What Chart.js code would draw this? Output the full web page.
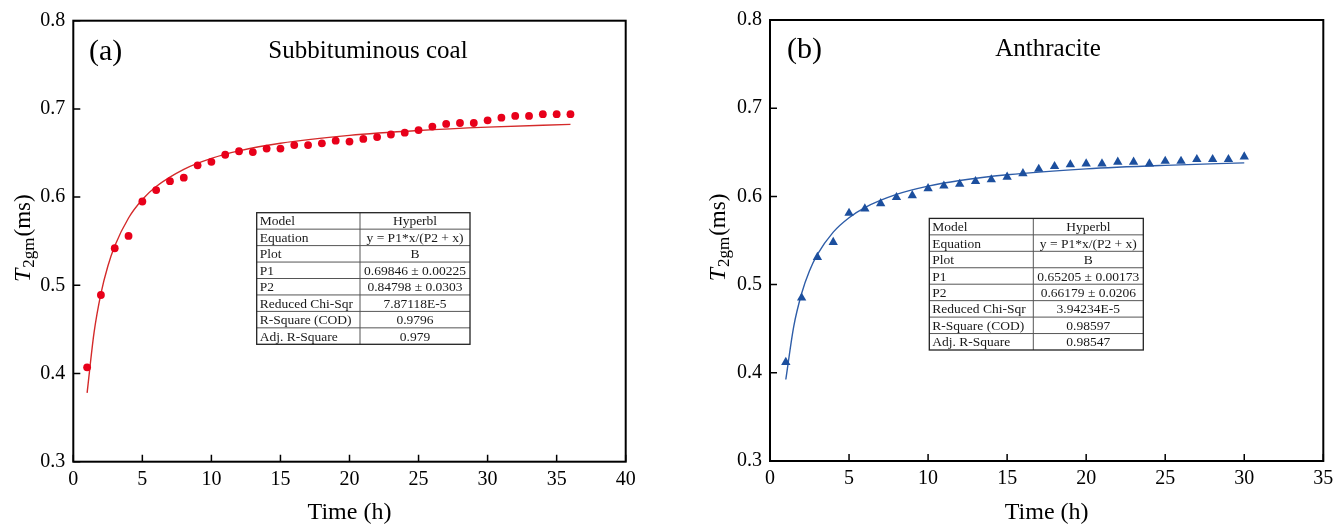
<!DOCTYPE html>
<html>
<head>
<meta charset="utf-8">
<title>T2gm vs time</title>
<script src="https://cdn.jsdelivr.net/npm/chart.js@4.4.1/dist/chart.umd.min.js"></script>
<style>
  html, body { margin: 0; padding: 0; background: #fff; overflow: hidden; width: 1333px; height: 528px; }
  .panel { position: absolute; top: 0; }
  #panelA { left: 0; }
  #panelB { left: 666px; }
</style>
</head>
<body>
<div class="panel" id="panelA"><canvas id="chartA" width="666" height="528"></canvas></div>
<div class="panel" id="panelB"><canvas id="chartB" width="700" height="528"></canvas></div>
<script>
// measured T2gm (ms) per hour
const hoursA = [1,2,3,4,5,6,7,8,9,10,11,12,13,14,15,16,17,18,19,20,21,22,23,24,25,26,27,28,29,30,31,32,33,34,35,36];
const t2gmA = [0.407,0.489,0.542,0.556,0.595,0.608,0.618,0.622,0.636,0.640,0.648,0.652,0.651,0.655,0.655,0.659,0.659,0.661,0.664,0.663,0.666,0.668,0.671,0.673,0.676,0.680,0.683,0.684,0.684,0.687,0.690,0.692,0.692,0.694,0.694,0.694];

const hoursB = [1,2,3,4,5,6,7,8,9,10,11,12,13,14,15,16,17,18,19,20,21,22,23,24,25,26,27,28,29,30];
const t2gmB = [0.412,0.485,0.531,0.548,0.581,0.586,0.592,0.599,0.601,0.609,0.612,0.614,0.617,0.619,0.622,0.626,0.631,0.634,0.636,0.637,0.637,0.639,0.639,0.637,0.640,0.640,0.642,0.642,0.642,0.645];

// hyperbolic fit curves (y = P1*x/(P2+x)) sampled along the time axis
const fitHoursA = [1,1.5,2,2.5,3,4,5,6,8,10,12,15,20,25,30,36];
const fitA = [0.378,0.446,0.4905,0.5216,0.5445,0.5763,0.5972,0.612,0.6315,0.6439,0.6524,0.6611,0.670,0.6755,0.6793,0.6824];
const fitHoursB = [1,1.5,2,2.5,3,4,5,6,8,10,12,15,20,25,30];
const fitB = [0.3924,0.4524,0.4899,0.5156,0.5342,0.5595,0.5758,0.5873,0.6022,0.6116,0.618,0.6245,0.6312,0.6352,0.638];

// fit report tables
const tableLabels = ['Model','Equation','Plot','P1','P2','Reduced Chi-Sqr','R-Square (COD)','Adj. R-Square'];
const tableValuesA = ['Hyperbl','y = P1*x/(P2 + x)','B','0.69846 \u00b1 0.00225','0.84798 \u00b1 0.0303','7.87118E-5','0.9796','0.979'];
const tableValuesB = ['Hyperbl','y = P1*x/(P2 + x)','B','0.65205 \u00b1 0.00173','0.66179 \u00b1 0.0206','3.94234E-5','0.98597','0.98547'];

const SERIF = '"Liberation Serif", "Times New Roman", serif';

function toPoints(xs, ys) {
  return xs.map((x, i) => ({ x: x, y: ys[i] }));
}

// frame, inward ticks, captions, fit table and the y-axis title
const decorPlugin = {
  id: 'decor',
  afterDraw(chart, args, o) {
    const ctx = chart.ctx;
    const a = chart.chartArea;
    const xs = chart.scales.x, ys = chart.scales.y;
    ctx.save();

    // table
    const tx = a.left + o.table.left, ty = a.top + o.table.top;
    const [c1, c2] = o.table.cols;
    const rh = o.table.rowHeight;
    const w = c1 + c2, h = rh * o.table.labels.length;
    ctx.fillStyle = '#fff';
    ctx.fillRect(tx, ty, w, h);
    ctx.strokeStyle = '#555';
    ctx.lineWidth = 1;
    ctx.beginPath();
    for (let i = 1; i < o.table.labels.length; i++) {
      ctx.moveTo(tx, ty + i * rh);
      ctx.lineTo(tx + w, ty + i * rh);
    }
    ctx.moveTo(tx + c1, ty);
    ctx.lineTo(tx + c1, ty + h);
    ctx.stroke();
    ctx.strokeStyle = '#222';
    ctx.lineWidth = 1.3;
    ctx.strokeRect(tx, ty, w, h);
    ctx.fillStyle = '#1a1a1a';
    ctx.font = '13.5px ' + SERIF;
    ctx.textBaseline = 'middle';
    o.table.labels.forEach((lab, i) => {
      const cy = ty + i * rh + rh / 2 + 1;
      ctx.textAlign = 'left';
      ctx.fillText(lab, tx + 3, cy);
      ctx.textAlign = 'center';
      ctx.fillText(o.table.values[i], tx + c1 + c2 / 2, cy);
    });

    // ticks pointing into the plot
    ctx.strokeStyle = '#000';
    ctx.lineWidth = 1.5;
    ctx.beginPath();
    xs.ticks.forEach(t => {
      const px = xs.getPixelForValue(t.value);
      ctx.moveTo(px, a.bottom);
      ctx.lineTo(px, a.bottom - 7);
    });
    ys.ticks.forEach(t => {
      const py = ys.getPixelForValue(t.value);
      ctx.moveTo(a.left, py);
      ctx.lineTo(a.left + 7, py);
    });
    ctx.stroke();

    // frame
    ctx.lineWidth = 2;
    ctx.strokeRect(a.left, a.top, a.right - a.left, a.bottom - a.top);

    // panel letter and sample name
    ctx.fillStyle = '#000';
    ctx.textBaseline = 'alphabetic';
    ctx.textAlign = 'left';
    ctx.font = '30px ' + SERIF;
    ctx.fillText(o.letter, a.left + o.letterX, o.letterY);
    ctx.textAlign = 'center';
    ctx.font = '25px ' + SERIF;
    ctx.fillText(o.name, a.left + o.nameX, o.nameY);

    // y title: T with subscript 2gm, then (ms)
    ctx.translate(a.left + o.yTitleX, (a.top + a.bottom) / 2 - 3);
    ctx.rotate(-Math.PI / 2);
    const italic = 'italic 24px ' + SERIF, main = '23px ' + SERIF, sub = '17px ' + SERIF;
    ctx.font = italic; const wT = ctx.measureText('T').width;
    ctx.font = sub; const wS = ctx.measureText('2gm').width;
    ctx.font = main; const wM = ctx.measureText('(ms)').width;
    let px = -(wT + wS + 2 + wM) / 2;
    ctx.textAlign = 'left';
    ctx.font = italic; ctx.fillText('T', px, 0); px += wT + 1;
    ctx.font = sub; ctx.fillText('2gm', px, 4); px += wS + 1;
    ctx.font = main; ctx.fillText('(ms)', px, 0);
    ctx.restore();
  }
};

function makeChart(id, cfg) {
  return new Chart(document.getElementById(id), {
    type: 'scatter',
    data: {
      datasets: [
        {
          label: 'T2gm',
          data: toPoints(cfg.hours, cfg.values),
          showLine: false,
          pointStyle: cfg.pointStyle,
          pointRadius: cfg.pointRadius,
          backgroundColor: cfg.markerColor,
          borderWidth: 0
        },
        {
          label: 'Hyperbl fit',
          data: toPoints(cfg.fitHours, cfg.fit),
          showLine: true,
          pointRadius: 0,
          borderColor: cfg.lineColor,
          borderWidth: 1.4,
          cubicInterpolationMode: 'monotone',
          fill: false
        }
      ]
    },
    options: {
      responsive: false,
      animation: false,
      layout: { padding: { left: 0, top: cfg.area.top, right: cfg.area.right, bottom: 0 } },
      plugins: {
        legend: { display: false },
        tooltip: { enabled: false },
        decor: cfg.decor
      },
      scales: {
        x: {
          type: 'linear',
          min: 0, max: cfg.xMax,
          grid: { display: false, drawTicks: false },
          border: { display: false },
          ticks: { stepSize: 5, color: '#000', padding: 6, font: { family: SERIF, size: 20 } },
          title: { display: true, text: 'Time (h)', color: '#000', padding: { top: 0, bottom: 1 }, font: { family: SERIF, size: 24 } },
          afterFit: s => { s.height = cfg.area.xHeight; }
        },
        y: {
          min: 0.3, max: 0.8,
          grid: { display: false, drawTicks: false },
          border: { display: false },
          ticks: { stepSize: 0.1, color: '#000', padding: 8, font: { family: SERIF, size: 20 },
                   callback: v => v.toFixed(1) },
          afterFit: s => { s.width = cfg.area.left; }
        }
      }
    },
    plugins: [decorPlugin]
  });
}

makeChart('chartA', {
  hours: hoursA, values: t2gmA, fitHours: fitHoursA, fit: fitA,
  pointStyle: 'circle', pointRadius: 3.9, markerColor: '#e8001a', lineColor: '#d42a2a',
  xMax: 40,
  area: { left: 73.3, top: 20.7, right: 40.3, xHeight: 66.3 },
  decor: {
    letter: '(a)', letterX: 15.7, letterY: 60,
    name: 'Subbituminous coal', nameX: 294.7, nameY: 58,
    yTitleX: -43,
    table: { labels: tableLabels, values: tableValuesA, left: 183.4, top: 192, cols: [103.3, 110], rowHeight: 16.45 }
  }
});

makeChart('chartB', {
  hours: hoursB, values: t2gmB, fitHours: fitHoursB, fit: fitB,
  pointStyle: 'triangle', pointRadius: 5.4, markerColor: '#1c4f9e', lineColor: '#2e5da8',
  xMax: 35,
  area: { left: 104, top: 19.3, right: 42.7, xHeight: 67 },
  decor: {
    letter: '(b)', letterX: 17, letterY: 58,
    name: 'Anthracite', nameX: 278, nameY: 56,
    yTitleX: -45.5,
    table: { labels: tableLabels, values: tableValuesB, left: 159.3, top: 198.4, cols: [104, 110], rowHeight: 16.45 }
  }
});
</script>
</body>
</html>
